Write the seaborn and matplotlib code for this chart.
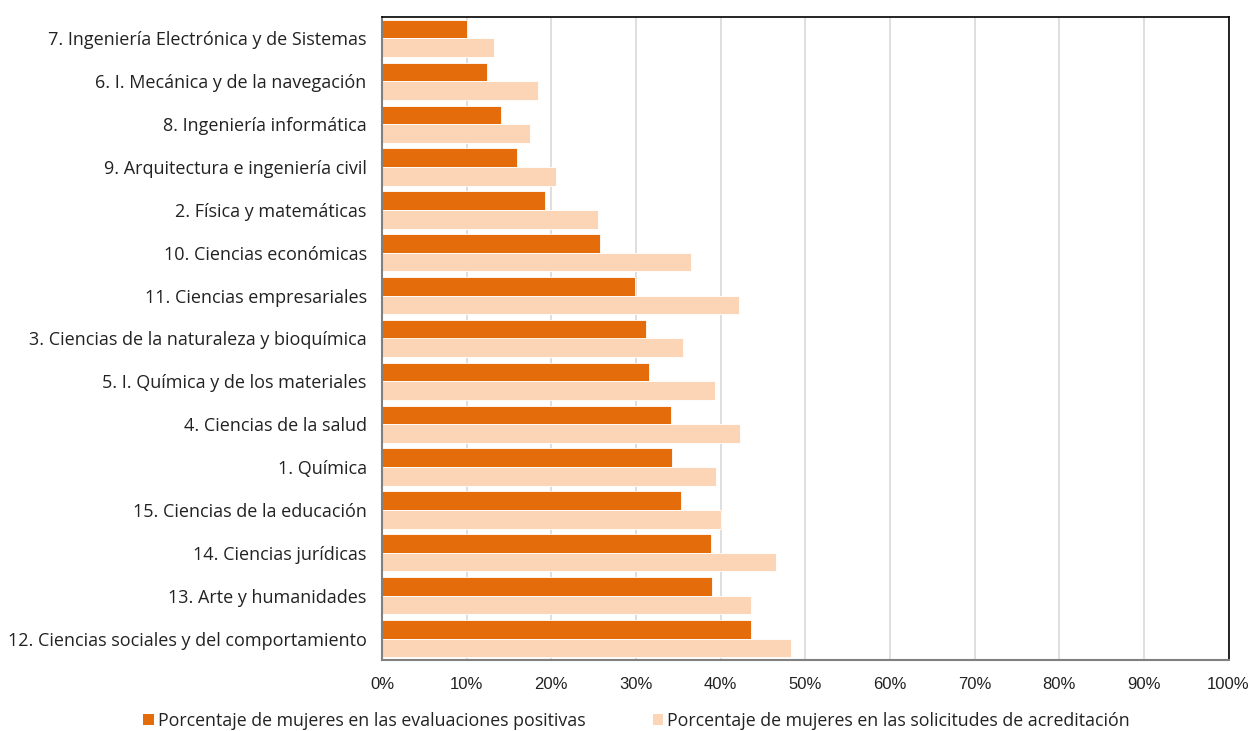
import matplotlib
matplotlib.use("Agg")
import matplotlib.pyplot as plt
import seaborn as sns
import pandas as pd
import numpy as np
from matplotlib.ticker import FixedLocator, PercentFormatter
from matplotlib.patches import Patch

categories = [
    "7. Ingeniería Electrónica y de Sistemas",
    "6. I. Mecánica y de la navegación",
    "8. Ingeniería informática",
    "9. Arquitectura e ingeniería civil",
    "2. Física y matemáticas",
    "10. Ciencias económicas",
    "11. Ciencias empresariales",
    "3. Ciencias de la naturaleza y bioquímica",
    "5. I. Química y de los materiales",
    "4. Ciencias de la salud",
    "1. Química",
    "15. Ciencias de la educación",
    "14. Ciencias jurídicas",
    "13. Arte y humanidades",
    "12. Ciencias sociales y del comportamiento",
]
positivas = [10.0, 12.4, 14.1, 16.0, 19.2, 25.8, 29.9, 31.2, 31.5, 34.1, 34.3, 35.3, 38.9, 39.0, 43.6]
solicitudes = [13.2, 18.4, 17.5, 20.5, 25.5, 36.5, 42.2, 35.5, 39.3, 42.3, 39.5, 40.0, 46.6, 43.6, 48.3]
series_names = [
    "Porcentaje de mujeres en las evaluaciones positivas",
    "Porcentaje de mujeres en las solicitudes de acreditación",
]
colors = ["#E46C0A", "#FBD5B5"]
x_ticks = list(range(0, 101, 10))

df = pd.DataFrame({
    "cat": categories * 2,
    "val": positivas + solicitudes,
    "serie": [series_names[0]] * len(categories) + [series_names[1]] * len(categories),
})

sns.set_style("white")
plt.rcParams["font.family"] = ["Open Sans", "DejaVu Sans"]

fig = plt.figure(figsize=(12.52, 7.31), dpi=100)
ax = fig.add_axes([382 / 1252, 1 - 660 / 731, (1228.5 - 382) / 1252, (660 - 17) / 731])

sns.barplot(data=df, y="cat", x="val", hue="serie", order=categories,
            hue_order=series_names, palette=colors, saturation=1, orient="h", width=0.87,
            edgecolor="white", linewidth=0.6, ax=ax, legend=False)

ax.set_xlim(0, 100)
ax.set_ylim(len(categories) - 0.5, -0.5)
ax.set_xticks(x_ticks)
ax.xaxis.set_major_formatter(PercentFormatter(decimals=0))
ax.set_xlabel("")
ax.set_ylabel("")
ax.grid(axis="x", color="#d9d9d9", linewidth=1.2)
ax.grid(axis="y", visible=False)
ax.set_axisbelow(True)

for lab in ax.get_xticklabels():
    lab.set_fontfamily(["Liberation Sans", "DejaVu Sans"])
    lab.set_fontsize(12)
    lab.set_color("#222222")
ax.tick_params(axis="x", length=0, pad=12)
ax.tick_params(axis="y", which="major", length=0, pad=11, labelsize=13, labelcolor="#222222")
ax.yaxis.set_minor_locator(FixedLocator(np.arange(-0.5, len(categories), 1.0)))
ax.tick_params(axis="y", which="minor", length=5, width=1, color="#808080", direction="out")

for side in ["top", "right"]:
    ax.spines[side].set_visible(True)
    ax.spines[side].set_color("black")
    ax.spines[side].set_linewidth(1.2)
for side in ["left", "bottom"]:
    ax.spines[side].set_visible(True)
    ax.spines[side].set_color("#808080")
    ax.spines[side].set_linewidth(1.5)

handles = [Patch(facecolor=c, edgecolor="none") for c in colors]
leg = fig.legend(handles, series_names, loc="center", bbox_to_anchor=(636.5 / 1252, 1 - 721 / 731),
                 ncol=2, frameon=False, fontsize=12.8, handlelength=0.6, handleheight=0.6,
                 handletextpad=0.2, columnspacing=3.8)
for t in leg.get_texts():
    t.set_color("#222222")

fig.savefig("out.png", dpi=100)
